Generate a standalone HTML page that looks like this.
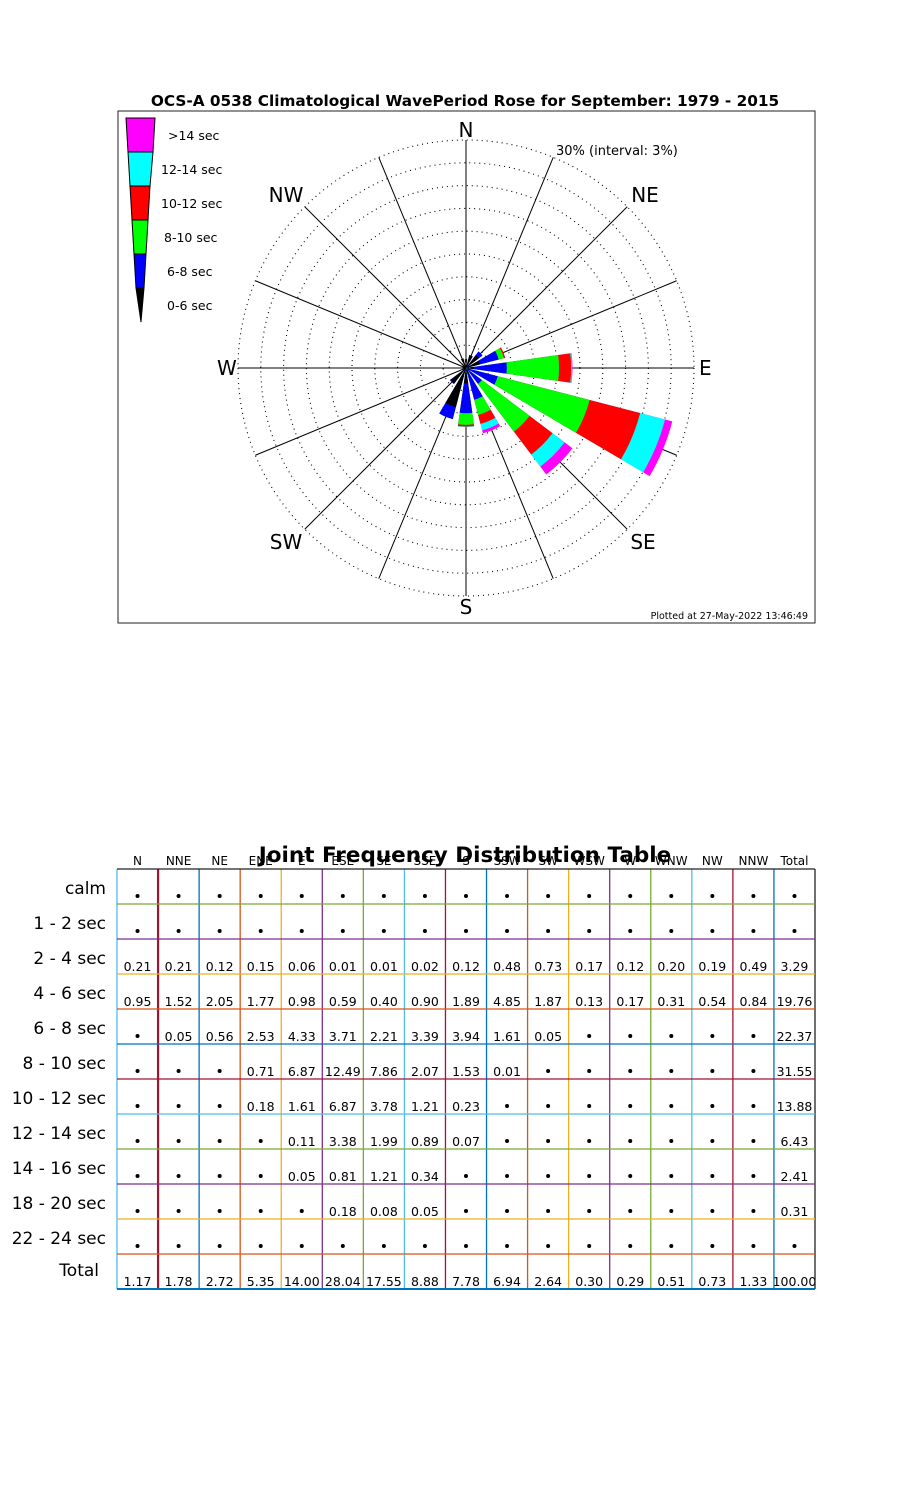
<!DOCTYPE html>
<html><head><meta charset="utf-8"><style>
html,body{margin:0;padding:0;background:#fff;}
svg text{font-family:"DejaVu Sans","Liberation Sans",sans-serif;}
</style></head><body>
<svg id="s" width="900" height="1500" xmlns="http://www.w3.org/2000/svg">
<rect x="0" y="0" width="900" height="1500" fill="#fff"/>
<text x="465" y="106" font-size="15.3" font-weight="bold" text-anchor="middle">OCS-A 0538 Climatological WavePeriod Rose for September: 1979 - 2015</text>
<rect x="118" y="111" width="697" height="512" fill="none" stroke="#222" stroke-width="1"/>
<g id="rose"></g>
<g font-size="20">
<text x="466" y="137" text-anchor="middle">N</text>
<text x="645" y="202" text-anchor="middle">NE</text>
<text x="699" y="375">E</text>
<text x="643" y="549" text-anchor="middle">SE</text>
<text x="466" y="614" text-anchor="middle">S</text>
<text x="286" y="549" text-anchor="middle">SW</text>
<text x="217" y="375">W</text>
<text x="286" y="202" text-anchor="middle">NW</text>
</g>
<text x="556" y="155" font-size="13">30% (interval: 3%)</text>
<text x="808" y="619" font-size="9.5" text-anchor="end">Plotted at 27-May-2022 13:46:49</text>
<g stroke="#000" stroke-width="1">
<polygon points="126,118 155,118 153,152 128,152" fill="#f0f"/>
<polygon points="128,152 153,152 150,186 130,186" fill="#0ff"/>
<polygon points="130,186 150,186 148,220 132,220" fill="#f00"/>
<polygon points="132,220 148,220 146,254 134,254" fill="#0f0"/>
<polygon points="134,254 146,254 144,288 136,288" fill="#00f"/>
<polygon points="136,288 144,288 141,322" fill="#000"/>
</g>
<g font-size="12.5">
<text x="168" y="140">&gt;14 sec</text>
<text x="161" y="174">12-14 sec</text>
<text x="161" y="208">10-12 sec</text>
<text x="164" y="242">8-10 sec</text>
<text x="167" y="276">6-8 sec</text>
<text x="167" y="310">0-6 sec</text>
</g>
<g id="tbl"></g>
<text x="465" y="862" font-size="21.5" font-weight="bold" text-anchor="middle">Joint Frequency Distribution Table</text>
</svg>
<script>
var NS="http://www.w3.org/2000/svg";
function el(p,t,a,txt){var e=document.createElementNS(NS,t);for(var k in a)e.setAttribute(k,a[k]);if(txt!==undefined)e.textContent=txt;p.appendChild(e);return e;}
var cx=466,cy=368,R=228,sc=R/30;
var rose=document.getElementById('rose');
for(var k=1;k<=10;k++)el(rose,'circle',{cx:cx,cy:cy,r:R*k/10,fill:'none',stroke:'#000','stroke-width':1.1,'stroke-dasharray':'1 4'});
for(var i=0;i<16;i++){var a=i*22.5*Math.PI/180;el(rose,'line',{x1:cx,y1:cy,x2:cx+R*Math.sin(a),y2:cy-R*Math.cos(a),stroke:'#000','stroke-width':1});}
var cols=['#000','#00f','#0f0','#f00','#0ff','#f0f'];
var data=[[1.16],[1.73,1.78],[2.17,2.73],[1.92,4.45,5.16,5.34],[1.04,5.37,12.24,13.85,13.96,14.01],[0.60,4.31,16.80,23.67,27.05,28.04],[0.41,2.62,10.48,14.26,16.25,17.54],[0.92,4.31,6.38,7.59,8.48,8.87],[2.01,5.95,7.48,7.71,7.78],[5.33,6.94,6.95],[2.60,2.65],[0.30],[0.29],[0.51],[0.73],[1.33]];
var h=8*Math.PI/180;
for(var d=0;d<16;d++){var b=d*22.5*Math.PI/180;var arr=data[d];
 for(var j=arr.length-1;j>=0;j--){var r=arr[j]*sc;var a1=b-h,a2=b+h;
  var p='M'+cx+' '+cy+' L'+(cx+r*Math.sin(a1))+' '+(cy-r*Math.cos(a1))+' A'+r+' '+r+' 0 0 1 '+(cx+r*Math.sin(a2))+' '+(cy-r*Math.cos(a2))+' Z';
  el(rose,'path',{d:p,fill:cols[j]});}}
var T=document.getElementById('tbl');
var x0=117,cw=(815-117)/17,y0=869,rh=35;
var hdr=['N','NNE','NE','ENE','E','ESE','SE','SSE','S','SSW','SW','WSW','W','WNW','NW','NNW','Total'];
hdr.forEach(function(t,i){el(T,'text',{x:x0+cw*(i+0.5),y:865,'font-size':12,'text-anchor':'middle'},t);});
var rows=['calm','1 - 2  sec','2 - 4  sec','4 - 6  sec','6 - 8  sec','8 - 10 sec','10 - 12 sec','12 - 14 sec','14 - 16 sec','18 - 20 sec','22 - 24 sec','Total'];
var D=[
'','',
'0.21 0.21 0.12 0.15 0.06 0.01 0.01 0.02 0.12 0.48 0.73 0.17 0.12 0.20 0.19 0.49 3.29',
'0.95 1.52 2.05 1.77 0.98 0.59 0.40 0.90 1.89 4.85 1.87 0.13 0.17 0.31 0.54 0.84 19.76',
'- 0.05 0.56 2.53 4.33 3.71 2.21 3.39 3.94 1.61 0.05 - - - - - 22.37',
'- - - 0.71 6.87 12.49 7.86 2.07 1.53 0.01 - - - - - - 31.55',
'- - - 0.18 1.61 6.87 3.78 1.21 0.23 - - - - - - - 13.88',
'- - - - 0.11 3.38 1.99 0.89 0.07 - - - - - - - 6.43',
'- - - - 0.05 0.81 1.21 0.34 - - - - - - - - 2.41',
'- - - - - 0.18 0.08 0.05 - - - - - - - - 0.31',
'','1.17 1.78 2.72 5.35 14.00 28.04 17.55 8.88 7.78 6.94 2.64 0.30 0.29 0.51 0.73 1.33 100.00'];
rows.forEach(function(t,r){
 var yb=y0+rh*(r+1);
 el(T,'text',{x:r==11?99:106,y:yb-(r==11?13:10),'font-size':17,'text-anchor':'end'},t);
 var v=D[r]?D[r].split(' '):[];
 for(var i=0;i<17;i++){var s=v[i]||'-';var xc=x0+cw*(i+0.5);
  if(s=='-')el(T,'circle',{cx:xc,cy:yb-8,r:2,fill:'#000'});
  else el(T,'text',{x:xc,y:yb-3,'font-size':12.5,'text-anchor':'middle'},s);}
});
var vc=['#4DBEEE','#A2142F','#0072BD','#D95319','#EDB120','#7E2F8E','#77AC30','#4DBEEE','#A2142F','#0072BD','#D95319','#EDB120','#7E2F8E','#77AC30','#4DBEEE','#A2142F','#0072BD','#222'];
for(var i=0;i<=17;i++){el(T,'line',{x1:x0+cw*i,y1:y0,x2:x0+cw*i,y2:y0+rh*12,stroke:vc[i],'stroke-width':i==1?2.2:1.3});}
var hc=['#222','#77AC30','#7E2F8E','#EDB120','#D95319','#0072BD','#A2142F','#4DBEEE','#77AC30','#7E2F8E','#EDB120','#D95319','#0072BD'];
for(var r=0;r<=12;r++){el(T,'line',{x1:x0,y1:y0+rh*r,x2:815,y2:y0+rh*r,stroke:hc[r],'stroke-width':r==12?2:1.3});}
</script>
</body></html>
